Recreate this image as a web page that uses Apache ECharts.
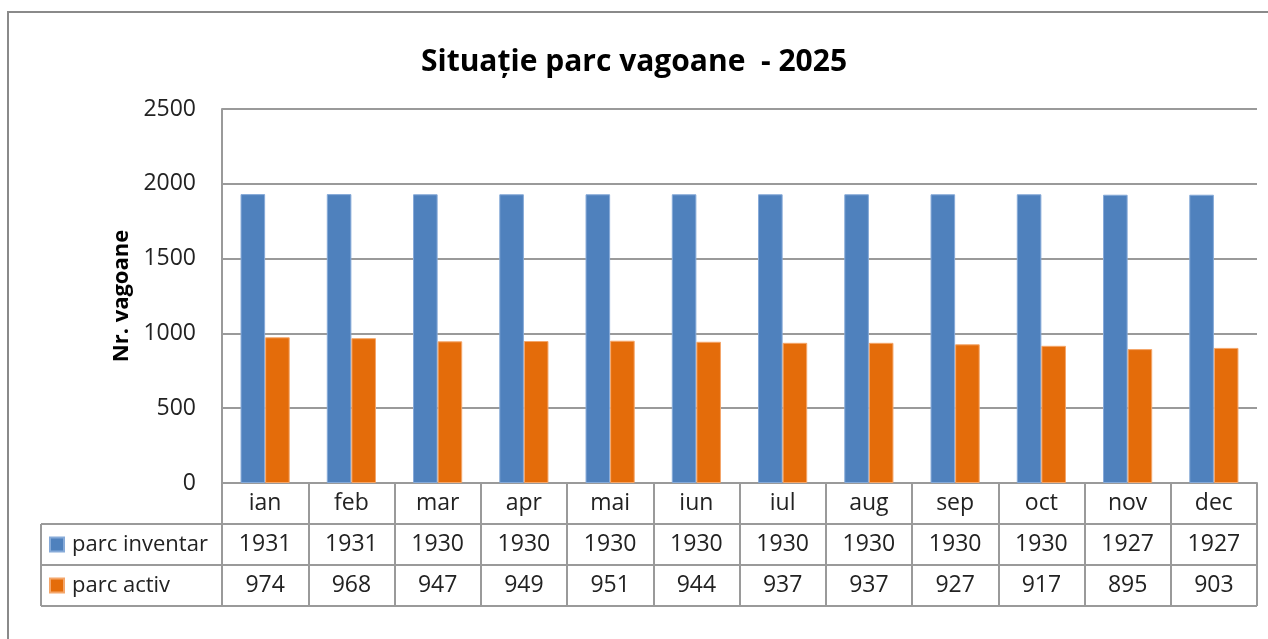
<!DOCTYPE html>
<html>
<head>
<meta charset="utf-8">
<title>Situație parc vagoane - 2025</title>
<script src="https://cdn.jsdelivr.net/npm/echarts@6/dist/echarts.min.js"></script>
<style>
  html, body { margin: 0; padding: 0; background: #fff; }
  #chart { width: 1268px; height: 639px; }
</style>
</head>
<body>
<div id="chart"></div>
<script>
// Monthly wagon fleet figures for 2025
const months = ['ian', 'feb', 'mar', 'apr', 'mai', 'iun', 'iul', 'aug', 'sep', 'oct', 'nov', 'dec'];
const parcInventar = [1931, 1931, 1930, 1930, 1930, 1930, 1930, 1930, 1930, 1930, 1927, 1927];
const parcActiv = [974, 968, 947, 949, 951, 944, 937, 937, 927, 917, 895, 903];
const seriesNames = ['parc inventar', 'parc activ'];
const yMin = 0, yMax = 2500, yStep = 500;

// Layout of the plot and of the data table under it
const W = 1268, H = 639;
const GRID = { left: 222, right: 11, top: 109, bottom: 156 };
const ROW_H = 41;               // height of each table row
const TABLE_LEFT = 41;          // left edge of the series-name column
const LINE_COLOR = '#9a9a9a';
const FONT = '"Open Sans", "Noto Sans", sans-serif';
const TEXT_COLOR = '#222';

const axisY = H - GRID.bottom;  // pixel row of the category axis
const gridRight = W - GRID.right;

const chart = echarts.init(document.getElementById('chart'), null, { renderer: 'canvas' });

// Table rule lines: the series-name column and the row separators
const tableLines = [];
for (let r = 1; r <= 3; r++) {
  tableLines.push({
    type: 'line',
    shape: { x1: TABLE_LEFT, y1: axisY + r * ROW_H, x2: gridRight, y2: axisY + r * ROW_H },
    style: { stroke: LINE_COLOR, lineWidth: 2 },
    z: 10
  });
}
tableLines.push({
  type: 'line',
  shape: { x1: TABLE_LEFT, y1: axisY + ROW_H, x2: TABLE_LEFT, y2: axisY + 3 * ROW_H },
  style: { stroke: LINE_COLOR, lineWidth: 2 },
  z: 10
});
// Chart frame (top and left edges)
tableLines.push({
  type: 'polyline',
  shape: { points: [[8, H + 5], [8, 12], [W + 5, 12]] },
  style: { stroke: '#8a8a8a', lineWidth: 2, fill: null },
  z: 10
});

const option = {
  animation: false,
  backgroundColor: '#fff',
  title: {
    text: 'Situație parc vagoane  - 2025',
    left: 'center',
    top: 42,
    textStyle: { fontFamily: FONT, fontWeight: 'bold', fontSize: 30, color: '#000' }
  },
  legend: {
    orient: 'vertical',
    left: 49,
    top: axisY + ROW_H + ROW_H / 2 - 13.5,
    padding: 0,
    itemWidth: 14,
    itemHeight: 14,
    itemGap: 14,
    icon: 'rect',
    data: seriesNames,
    textStyle: { fontFamily: FONT, fontSize: 22, color: TEXT_COLOR, lineHeight: 27, padding: [0, 0, 0, 3] }
  },
  grid: { left: GRID.left, right: GRID.right, top: GRID.top, bottom: GRID.bottom, containLabel: false },
  xAxis: {
    type: 'category',
    data: months,
    axisLine: { show: true, lineStyle: { color: LINE_COLOR, width: 2 } },
    axisTick: { show: true, interval: 0, length: 3 * ROW_H, lineStyle: { color: LINE_COLOR, width: 2 } },
    axisLabel: {
      interval: 0,
      margin: 0,
      formatter: (value, idx) => `{c|${value}}\n{c|${parcInventar[idx]}}\n{c|${parcActiv[idx]}}`,
      rich: {
        c: { fontFamily: FONT, fontSize: 23, lineHeight: ROW_H, color: TEXT_COLOR, align: 'center' }
      }
    },
    splitLine: { show: false }
  },
  yAxis: {
    type: 'value',
    min: yMin,
    max: yMax,
    interval: yStep,
    name: 'Nr. vagoane',
    nameLocation: 'middle',
    nameRotate: 90,
    nameGap: 84,
    nameTextStyle: { fontFamily: FONT, fontWeight: 'bold', fontSize: 22, color: '#000' },
    axisLine: { show: true, lineStyle: { color: LINE_COLOR, width: 2 } },
    axisTick: { show: false },
    axisLabel: { fontFamily: FONT, fontSize: 23, color: TEXT_COLOR, margin: 26, formatter: (v) => String(v) },
    splitLine: { show: true, lineStyle: { color: LINE_COLOR, width: 2 } }
  },
  series: [
    {
      name: seriesNames[0],
      type: 'bar',
      data: parcInventar,
      barGap: '0%',
      barCategoryGap: '43%',
      itemStyle: { color: '#4f81bd', borderColor: '#86aad8', borderWidth: 1 }
    },
    {
      name: seriesNames[1],
      type: 'bar',
      data: parcActiv,
      itemStyle: { color: '#e46c0a', borderColor: '#f4a66a', borderWidth: 1 }
    }
  ],
  graphic: tableLines
};

chart.setOption(option);
</script>
</body>
</html>
